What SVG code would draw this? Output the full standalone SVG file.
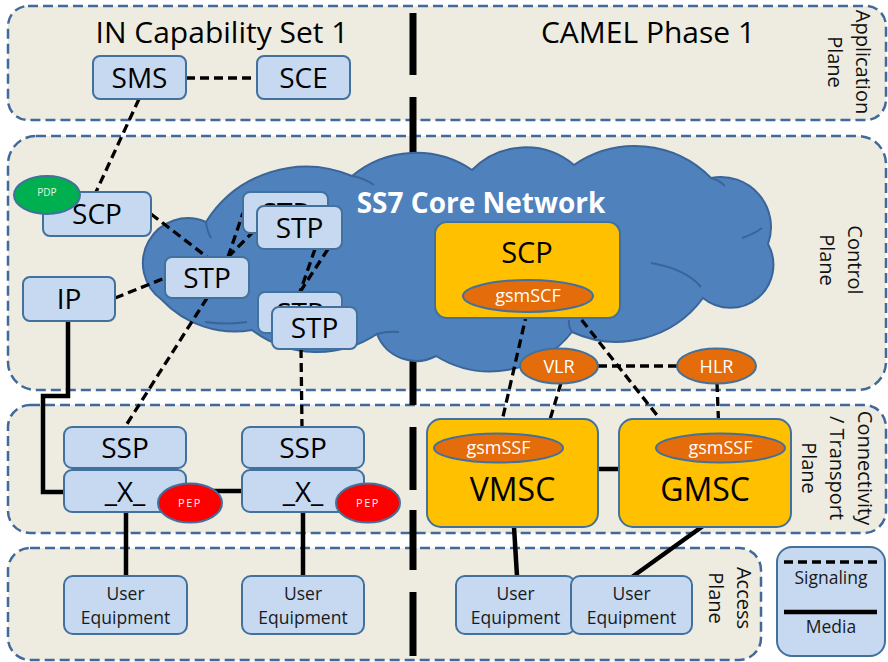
<svg xmlns="http://www.w3.org/2000/svg" width="888" height="662" viewBox="0 0 888 662">
  <style>
    text { font-family: "Open Sans", "Liberation Sans", sans-serif; fill: #000; }
    .plane { fill: #EEECE1; stroke: #41699A; stroke-width: 2.5; stroke-dasharray: 10 5; }
    .box { fill: #C6D9F1; stroke: #41719C; stroke-width: 2; }
    .org { fill: #FFC000; stroke: #41719C; stroke-width: 2; }
    .oval { fill: #E46C0A; stroke: #41719C; stroke-width: 2; }
    .sig { fill: none; stroke: #000; stroke-width: 3.3; stroke-dasharray: 9 5; }
    .med { fill: none; stroke: #000; stroke-width: 4.5; }
    .lbl { font-size: 28px; text-anchor: middle; }
    .big { font-size: 32px; text-anchor: middle; }
    .wt { font-size: 18px; text-anchor: middle; fill: #FFFFFF; }
    .ue { font-size: 17.5px; text-anchor: middle; fill: #1a1a1a; }
    .side { font-size: 20px; text-anchor: middle; fill: #111; }
    .title { font-size: 30px; text-anchor: middle; }
  </style>

  <!-- planes -->
  <g id="planes">
    <rect id="application-plane" class="plane" x="8" y="6" width="878" height="114" rx="20"/>
    <rect id="control-plane" class="plane" x="8" y="136" width="878" height="254" rx="28"/>
    <rect id="transport-plane" class="plane" x="8" y="405" width="878" height="128" rx="22"/>
    <rect id="access-plane" class="plane" x="8" y="548" width="753" height="112" rx="22"/>
  </g>

  <!-- titles and plane labels -->
  <g id="labels">
    <text class="title" x="222" y="43">IN Capability Set 1</text>
    <text class="title" x="648" y="43">CAMEL Phase 1</text>
    <g transform="translate(856,62) rotate(90)">
      <text class="side" x="0" y="0">Application</text>
      <text class="side" x="0" y="28">Plane</text>
    </g>
    <g transform="translate(848,260) rotate(90)">
      <text class="side" x="0" y="0">Control</text>
      <text class="side" x="0" y="28">Plane</text>
    </g>
    <g transform="translate(858,468) rotate(90)">
      <text class="side" x="0" y="0">Connectivity</text>
      <text class="side" x="0" y="28">/ Transport</text>
      <text class="side" x="0" y="56">Plane</text>
    </g>
    <g transform="translate(737,598) rotate(90)">
      <text class="side" x="0" y="0">Access</text>
      <text class="side" x="0" y="28">Plane</text>
    </g>
  </g>

  <!-- divider between the two standards -->
  <g id="divider" stroke="#000" stroke-width="7">
    <line x1="413" y1="13" x2="413" y2="75"/>
    <line x1="413" y1="97" x2="413" y2="405"/>
    <line x1="413" y1="427" x2="413" y2="490"/>
    <line x1="413" y1="510" x2="413" y2="570"/>
    <line x1="413" y1="592" x2="413" y2="656"/>
  </g>

  <!-- SS7 core network cloud -->
  <g id="ss7-cloud">
    <path fill="#4F81BD" stroke="#3A6598" stroke-width="2"
      d="M162,300 A45,45 0 0 1 206,222 A118,118 0 0 1 352,176 A100,100 0 0 1 472,170 A75,75 0 0 1 574,165 A107,107 0 0 1 711,178 A50,50 0 0 1 768,244 A43,43 0 0 1 703,298 A107,107 0 0 1 572,332 A104,104 0 0 1 436,356 A42,42 0 0 1 377,334 A108,108 0 0 1 252,330 A100,100 0 0 1 162,300 Z"/>
    <g fill="none" stroke="#3A6598" stroke-width="2">
      <path d="M352,176 q12,2 22,9"/>
      <path d="M711,178 q8,2 14,8"/>
      <path d="M742,238 q12,-4 20,-10"/>
      <path d="M651,263 q35,6 50,24"/>
      <path d="M572,332 q-4,-6 -3,-12"/>
      <path d="M377,334 q10,-3 22,-2"/>
      <path d="M247,322 q-20,3 -42,0"/>
      <path d="M206,222 q1,9 5,16"/>
    </g>
    <text x="481" y="213" font-size="28" font-weight="bold" text-anchor="middle" style="fill:#FFFFFF">SS7 Core Network</text>
  </g>

  <!-- connectors -->
  <g id="connectors">
    <!-- signaling -->
    <line class="sig" x1="186" y1="78" x2="257" y2="78"/>
    <line class="sig" x1="139" y1="99" x2="96" y2="192"/>
    <line class="sig" x1="151" y1="214" x2="207" y2="257"/>
    <line class="sig" x1="115" y1="298" x2="165" y2="278"/>
    <line class="sig" x1="228" y1="257" x2="243" y2="213"/>
    <line class="sig" x1="228" y1="257" x2="257" y2="228"/>
    <line class="sig" x1="315" y1="249" x2="300" y2="292"/>
    <line class="sig" x1="328" y1="249" x2="300" y2="292"/>
    <line class="sig" x1="207" y1="298" x2="125" y2="427"/>
    <line class="sig" x1="301" y1="349" x2="302" y2="427"/>
    <line class="sig" x1="527" y1="312" x2="499" y2="434"/>
    <line class="sig" x1="573" y1="309" x2="675" y2="438"/>
    <line class="sig" x1="561" y1="383" x2="545" y2="436"/>
    <line class="sig" x1="717" y1="383" x2="719" y2="434"/>
    <line class="sig" x1="598" y1="366" x2="677" y2="366"/>
    <!-- media -->
    <path class="med" d="M68,321 V396 H43 V492 H64"/>
    <line class="med" x1="186" y1="491" x2="242" y2="491"/>
    <line class="med" x1="126" y1="512" x2="126" y2="576"/>
    <line class="med" x1="303" y1="512" x2="303" y2="576"/>
    <line class="med" x1="598" y1="469" x2="619" y2="469"/>
    <line class="med" x1="514" y1="527" x2="517" y2="576"/>
    <line class="med" x1="703" y1="526" x2="632" y2="577"/>
  </g>

  <!-- IN CS-1 nodes -->
  <g id="sms"><rect class="box" x="93" y="56" width="93" height="43" rx="7"/><text class="lbl" x="139.5" y="88">SMS</text></g>
  <g id="sce"><rect class="box" x="257" y="56" width="93" height="43" rx="7"/><text class="lbl" x="303.5" y="88">SCE</text></g>
  <g id="scp-in"><rect class="box" x="43" y="192" width="108" height="44" rx="7"/><text class="lbl" x="97" y="224">SCP</text></g>
  <g id="pdp"><ellipse cx="47" cy="195" rx="33" ry="19" fill="#00B050" stroke="#41719C" stroke-width="2"/><text x="47" y="196" font-size="10" text-anchor="middle" style="fill:#E4F4E4">PDP</text></g>
  <g id="ip"><rect class="box" x="23" y="277" width="92" height="44" rx="7"/><text class="lbl" x="69" y="309">IP</text></g>
  <g id="stp-a"><rect class="box" x="165" y="257" width="84" height="41" rx="7"/><text class="lbl" x="207" y="287.5">STP</text></g>
  <g id="stp-b2"><rect class="box" x="243" y="192" width="85" height="41" rx="7"/><text class="lbl" x="285.5" y="223">STP</text></g>
  <g id="stp-b"><rect class="box" x="257" y="206" width="85" height="43" rx="7"/><text class="lbl" x="299.5" y="237.5">STP</text></g>
  <g id="stp-c2"><rect class="box" x="258" y="292" width="84" height="41" rx="7"/><text class="lbl" x="300" y="323">STP</text></g>
  <g id="stp-c"><rect class="box" x="272" y="307" width="85" height="42" rx="7"/><text class="lbl" x="314.5" y="338">STP</text></g>

  <g id="ssp-1"><rect class="box" x="64" y="427" width="122" height="41" rx="8"/><text class="lbl" x="125" y="457.5">SSP</text></g>
  <g id="switch-1"><rect class="box" x="64" y="470" width="122" height="42" rx="8"/><text class="lbl" x="125" y="502">_X_</text></g>
  <g id="pep-1"><ellipse cx="190" cy="503" rx="32" ry="19.5" fill="#FF0000" stroke="#41719C" stroke-width="2"/><text x="190" y="507" font-size="11" letter-spacing="1.5" text-anchor="middle" style="fill:#FFF0F0">PEP</text></g>
  <g id="ssp-2"><rect class="box" x="242" y="427" width="122" height="41" rx="8"/><text class="lbl" x="303" y="457.5">SSP</text></g>
  <g id="switch-2"><rect class="box" x="242" y="470" width="122" height="42" rx="8"/><text class="lbl" x="303" y="502">_X_</text></g>
  <g id="pep-2"><ellipse cx="368" cy="503" rx="32" ry="19.5" fill="#FF0000" stroke="#41719C" stroke-width="2"/><text x="368" y="507" font-size="11" letter-spacing="1.5" text-anchor="middle" style="fill:#FFF0F0">PEP</text></g>

  <g id="ue-1"><rect class="box" x="64" y="576" width="123" height="58" rx="9"/><text class="ue" x="125.5" y="600">User</text><text class="ue" x="125.5" y="624">Equipment</text></g>
  <g id="ue-2"><rect class="box" x="242" y="576" width="122" height="58" rx="9"/><text class="ue" x="303" y="600">User</text><text class="ue" x="303" y="624">Equipment</text></g>

  <!-- CAMEL nodes -->
  <g id="scp-camel"><rect class="org" x="435" y="222" width="185" height="96" rx="12"/><text x="527" y="263" font-size="29" text-anchor="middle">SCP</text></g>
  <g id="gsmscf"><ellipse class="oval" cx="528" cy="296" rx="65" ry="16"/><text class="wt" x="528" y="302">gsmSCF</text></g>
  <g id="vlr"><ellipse class="oval" cx="559" cy="366" rx="39" ry="17.5"/><text class="wt" x="559" y="372.5">VLR</text></g>
  <g id="hlr"><ellipse class="oval" cx="716.5" cy="366" rx="39.5" ry="17.5"/><text class="wt" x="716.5" y="372.5">HLR</text></g>
  <g id="vmsc"><rect class="org" x="427" y="419" width="171" height="108" rx="14"/><text class="big" x="512.5" y="501">VMSC</text></g>
  <g id="gsmssf-v"><ellipse class="oval" cx="498.5" cy="448" rx="64.5" ry="14.5"/><text class="wt" x="498.5" y="454">gsmSSF</text></g>
  <g id="gmsc"><rect class="org" x="619" y="419" width="172" height="108" rx="14"/><text class="big" x="705" y="501">GMSC</text></g>
  <g id="gsmssf-g"><ellipse class="oval" cx="720.5" cy="448" rx="64.5" ry="14.5"/><text class="wt" x="720.5" y="454">gsmSSF</text></g>
  <g id="ue-3"><rect class="box" x="456" y="576" width="119" height="58" rx="9"/><text class="ue" x="515.5" y="600">User</text><text class="ue" x="515.5" y="624">Equipment</text></g>
  <g id="ue-4"><rect class="box" x="571" y="576" width="121" height="58" rx="9"/><text class="ue" x="631.5" y="600">User</text><text class="ue" x="631.5" y="624">Equipment</text></g>

  <!-- legend -->
  <g id="legend">
    <rect class="box" x="777" y="547" width="108" height="109" rx="15"/>
    <line class="sig" x1="784" y1="562" x2="877" y2="562"/>
    <text class="ue" x="831" y="584">Signaling</text>
    <line class="med" x1="784" y1="612" x2="877" y2="612"/>
    <text class="ue" x="831" y="633">Media</text>
  </g>
</svg>
